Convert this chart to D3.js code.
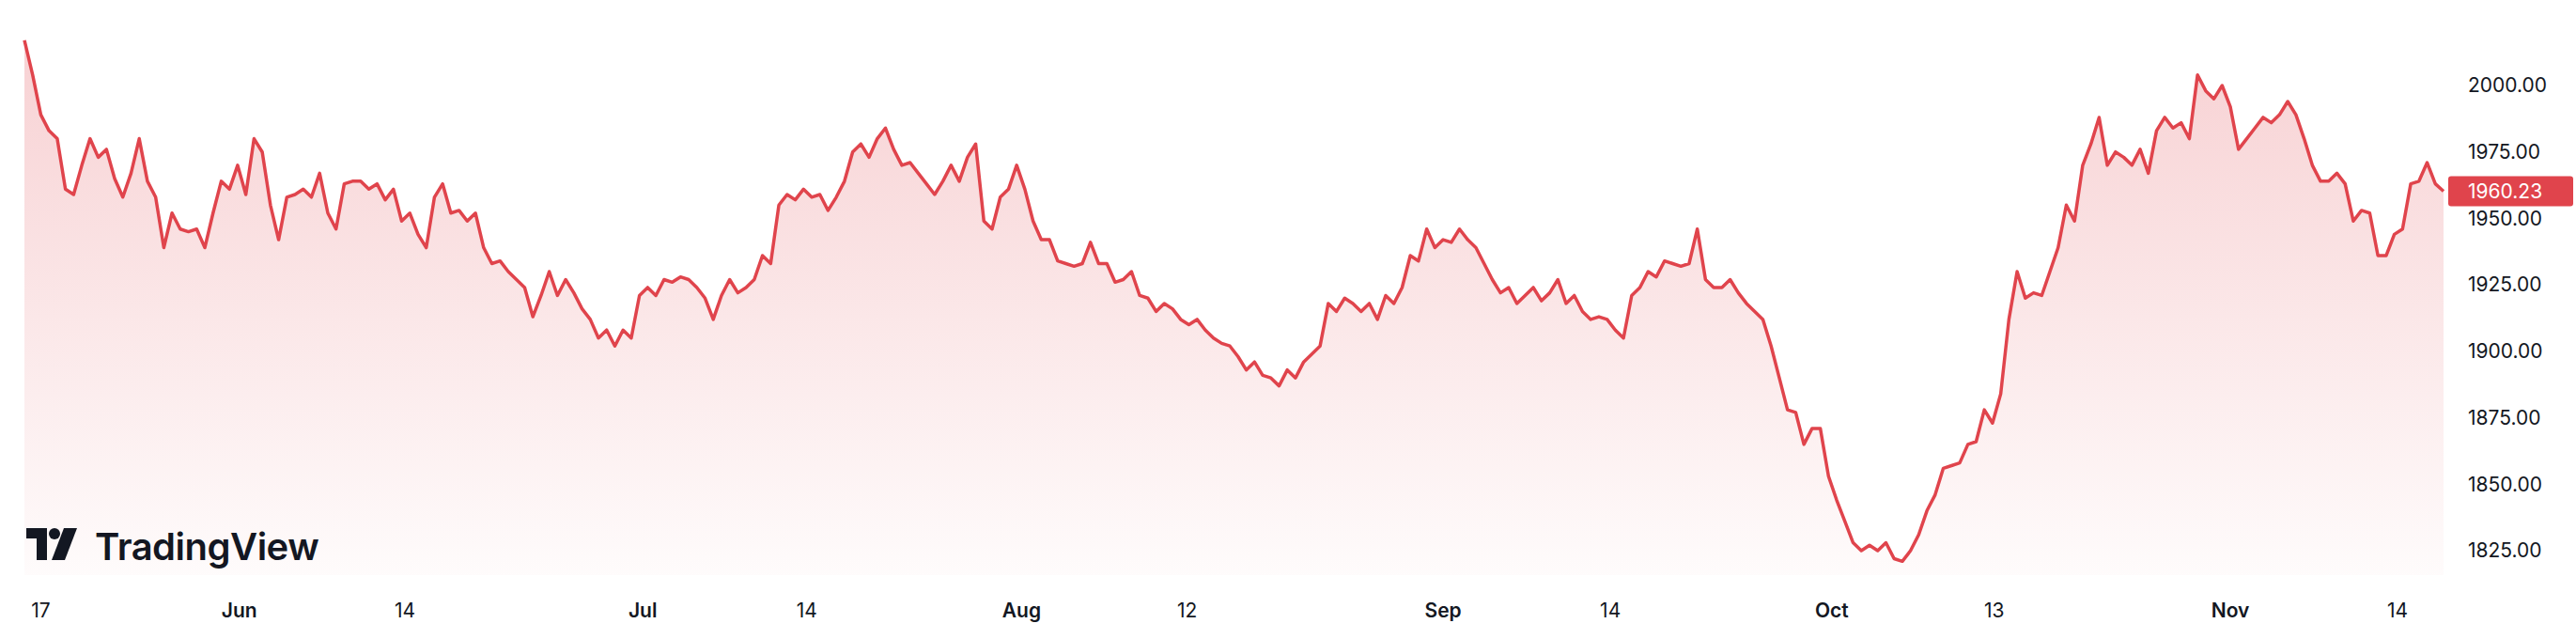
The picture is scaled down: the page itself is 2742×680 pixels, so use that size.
<!DOCTYPE html>
<html>
<head>
<meta charset="utf-8">
<script src="https://cdn.jsdelivr.net/npm/d3@7"></script>
<style>
  body { margin: 0; background: #fff; }
  svg { display: block; font-family: "Inter", "Roboto", sans-serif; }
</style>
</head>
<body>
<div id="chart"></div>
<script>
// price readings, evenly spaced in time (May 17 -> Nov 15)
const prices = [
  2017,2004,1989,1983,1980,1961,1959,1970,1980,1973,1976,1965,1958,1967,1980,1964,1958,1939,1952,1946,
  1945,1946,1939,1952,1964,1961,1970,1959,1980,1975,1955,1942,1958,1959,1961,1958,1967,1952,1946,1963,
  1964,1964,1961,1963,1957,1961,1949,1952,1944,1939,1958,1963,1952,1953,1949,1952,1939,1933,1934,1930,
  1927,1924,1913,1921,1930,1921,1927,1922,1916,1912,1905,1908,1902,1908,1905,1921,1924,1921,1927,1926,
  1928,1927,1924,1920,1912,1921,1927,1922,1924,1927,1936,1933,1955,1959,1957,1961,1958,1959,1953,1958,
  1964,1975,1978,1973,1980,1984,1976,1970,1971,1967,1963,1959,1964,1970,1964,1973,1978,1949,1946,1958,
  1961,1970,1961,1949,1942,1942,1934,1933,1932,1933,1941,1933,1933,1926,1927,1930,1921,1920,1915,1918,
  1916,1912,1910,1912,1908,1905,1903,1902,1898,1893,1896,1891,1890,1887,1893,1890,1896,1899,1902,1918,
  1915,1920,1918,1915,1918,1912,1921,1918,1924,1936,1934,1946,1939,1942,1941,1946,1942,1939,1933,1927,
  1922,1924,1918,1921,1924,1919,1922,1927,1918,1921,1915,1912,1913,1912,1908,1905,1921,1924,1930,1928,
  1934,1933,1932,1933,1946,1927,1924,1924,1927,1922,1918,1915,1912,1902,1890,1878,1877,1865,1871,1871,
  1853,1844,1836,1828,1825,1827,1825,1828,1822,1821,1825,1831,1840,1846,1856,1857,1858,1865,1866,1878,
  1873,1884,1912,1930,1920,1922,1921,1930,1939,1955,1949,1970,1978,1988,1970,1975,1973,1970,1976,1967,
  1983,1988,1984,1986,1980,2004,1998,1995,2000,1992,1976,1980,1984,1988,1986,1989,1994,1989,1980,1970,
  1964,1964,1967,1963,1949,1953,1952,1936,1936,1944,1946,1963,1964,1971,1963,1960.23
];
const yTicks = [1825, 1850, 1875, 1900, 1925, 1950, 1975, 2000];
const xTickPos = [2, 26.2, 46.4, 75.4, 95.4, 121.6, 141.8, 173, 193.4, 220.4, 240.2, 269, 289.4];
const xTickLabels = ["17", "Jun", "14", "Jul", "14", "Aug", "12", "Sep", "14", "Oct", "13", "Nov", "14"];
const lastPrice = prices[prices.length - 1];

const W = 2742, H = 680;
const plot = {left: 26, right: 2601, top: 0, bottom: 612};
const red = "#e0444c";

const svg = d3.select("#chart").append("svg")
  .attr("width", W).attr("height", H);

const x = d3.scaleLinear().domain([0, prices.length - 1]).range([plot.left, plot.right]);
const y = d3.scaleLinear().domain([2000, 1825]).range([91, 586]);

const grad = svg.append("defs").append("linearGradient")
  .attr("id", "fillGrad").attr("gradientUnits", "userSpaceOnUse")
  .attr("x1", 0).attr("x2", 0).attr("y1", 30).attr("y2", plot.bottom);
grad.append("stop").attr("offset", 0).attr("stop-color", red).attr("stop-opacity", 0.25);
grad.append("stop").attr("offset", 1).attr("stop-color", red).attr("stop-opacity", 0.02);

svg.append("path")
  .datum(prices)
  .attr("fill", "url(#fillGrad)")
  .attr("d", d3.area().x((d, i) => x(i)).y0(plot.bottom).y1(d => y(d)));

svg.append("path")
  .datum(prices)
  .attr("fill", "none")
  .attr("stroke", red)
  .attr("stroke-width", 3.5)
  .attr("stroke-linejoin", "round")
  .attr("d", d3.line().x((d, i) => x(i)).y(d => y(d)));

// right price axis
svg.append("g").selectAll("text").data(yTicks).join("text")
  .attr("x", 2627).attr("y", d => y(d)).attr("dy", "0.35em")
  .attr("font-size", 21).attr("fill", "#131722")
  .text(d => d3.format(".2f")(d));

// last price badge
const ly = y(lastPrice);
svg.append("rect")
  .attr("x", 2606).attr("y", ly - 16).attr("width", 133).attr("height", 32)
  .attr("rx", 3).attr("fill", red);
svg.append("text")
  .attr("x", 2627).attr("y", ly).attr("dy", "0.35em")
  .attr("font-size", 21).attr("fill", "#fff")
  .text(d3.format(".2f")(lastPrice));

// bottom time axis
svg.append("g").selectAll("text").data(xTickPos).join("text")
  .attr("x", d => x(d)).attr("y", 650).attr("dy", "0.35em")
  .attr("text-anchor", "middle")
  .attr("font-size", 21).attr("fill", "#131722")
  .attr("font-weight", (d, i) => isNaN(+xTickLabels[i]) ? 600 : 400)
  .text((d, i) => xTickLabels[i]);

// logo
const logo = svg.append("g").attr("transform", "translate(28,562)").attr("fill", "#131722");
logo.append("path").attr("d", "M0 0 H22 V34 H11 V11 H0 Z");
logo.append("circle").attr("cx", 30).attr("cy", 6).attr("r", 6);
logo.append("path").attr("d", "M40 0 H54 L41 34 H27 Z");
svg.append("text")
  .attr("x", 101).attr("y", 596)
  .attr("font-size", 40).attr("font-weight", 600).attr("fill", "#131722")
  .attr("letter-spacing", -0.5)
  .text("TradingView");
</script>
</body>
</html>
